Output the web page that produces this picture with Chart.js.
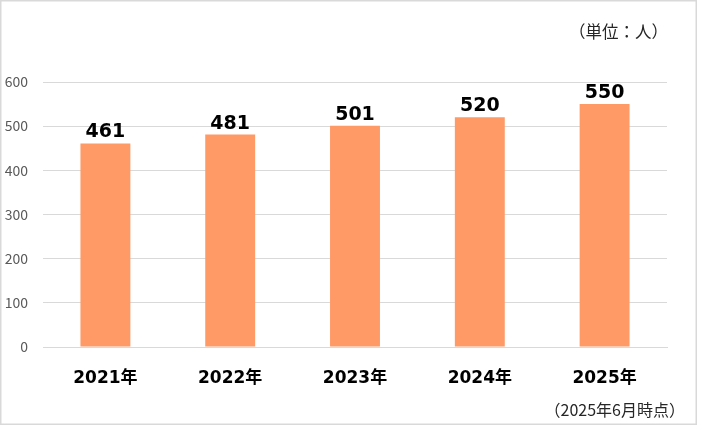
<!DOCTYPE html>
<html><head><meta charset="utf-8">
<script src="https://cdn.jsdelivr.net/npm/chart.js@4/dist/chart.umd.min.js"></script>
<style>html,body{margin:0;padding:0;background:#fff;}canvas{display:block;}</style>
</head><body>
<canvas id="c" width="702" height="439"></canvas>
<script>
const categories = ['2021年','2022年','2023年','2024年','2025年'];
const values = [461, 481, 501, 520, 550];
const yTicks = [0, 100, 200, 300, 400, 500, 600];
const unitNote = '（単位：人）';
const dateNote = '（2025年6月時点）';

const decor = {
  id: 'decor',
  beforeDraw(chart) {
    const ctx = chart.ctx;
    ctx.save();
    ctx.fillStyle = '#fff';
    ctx.fillRect(0, 0, chart.width, chart.height);
    ctx.strokeStyle = '#d9d9d9';
    ctx.lineWidth = 1.5;
    ctx.strokeRect(0.75, 0.75, 695.5, 423.5);
    ctx.restore();
  },
  afterDatasetsDraw(chart) {
    const ctx = chart.ctx;
    ctx.save();
    const meta = chart.getDatasetMeta(0);
    ctx.font = 'bold 19px "DejaVu Sans", "Noto Sans CJK JP"';
    ctx.fillStyle = '#000';
    ctx.textAlign = 'center';
    ctx.textBaseline = 'alphabetic';
    meta.data.forEach((bar, i) => {
      ctx.fillText(String(values[i]), bar.x, bar.y - 6);
    });
    ctx.font = '16.5px "Noto Sans CJK JP"';
    ctx.fillStyle = '#262626';
    ctx.textAlign = 'right';
    ctx.textBaseline = 'middle';
    ctx.fillText(unitNote, 668, 32);
    ctx.font = '16px "Noto Sans CJK JP"';
    ctx.fillText(dateNote, 685, 410);
    ctx.restore();
  }
};

new Chart(document.getElementById('c'), {
  type: 'bar',
  data: {
    labels: categories,
    datasets: [{
      data: values,
      backgroundColor: '#ff9966',
      borderWidth: 0,
      barPercentage: 0.4,
      categoryPercentage: 1.0
    }]
  },
  options: {
    responsive: false,
    animation: false,
    layout: { padding: { top: 82, right: 35, bottom: 0, left: 0 } },
    plugins: { legend: { display: false }, tooltip: { enabled: false } },
    scales: {
      x: {
        grid: { display: false, drawTicks: false },
        border: { display: true, color: '#d9d9d9' },
        ticks: {
          color: '#000',
          padding: 21,
          font: { family: '"DejaVu Sans", "Noto Sans CJK JP"', size: 17, weight: 'bold' }
        },
        afterFit(scale) { scale.height = 92; }
      },
      y: {
        min: 0, max: 600,
        afterBuildTicks(scale) { scale.ticks = yTicks.map(v => ({ value: v })); },
        grid: { color: '#d9d9d9', drawTicks: false, lineWidth: 1 },
        border: { display: false },
        ticks: {
          color: '#595959',
          padding: 15,
          font: { family: '"Noto Sans CJK JP"', size: 14 }
        },
        afterFit(scale) { scale.width = 43; }
      }
    }
  },
  plugins: [decor]
});
</script>
</body></html>
